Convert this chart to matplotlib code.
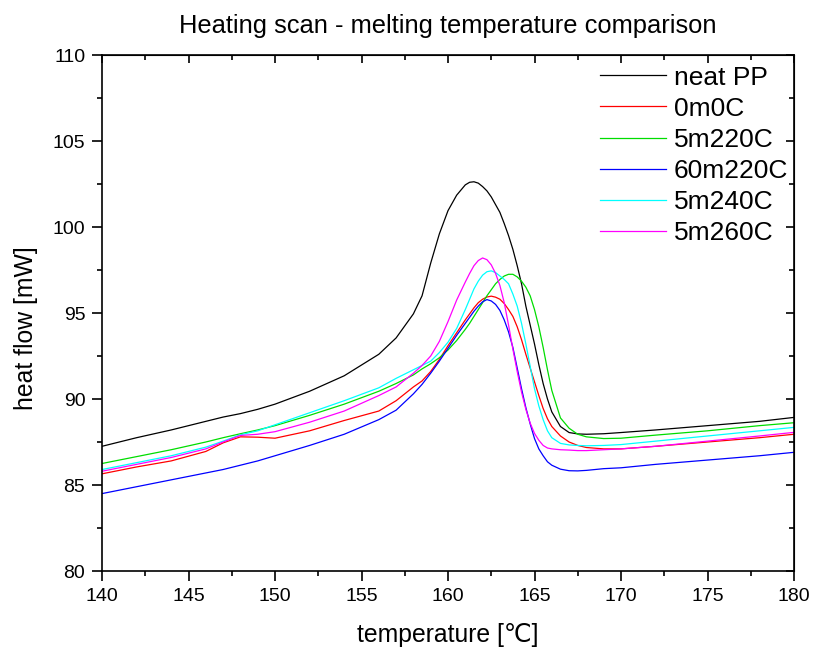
import matplotlib.pyplot as plt
from matplotlib.ticker import MultipleLocator

plt.rcParams['font.family'] = ['Liberation Sans', 'DejaVu Sans']

temperature = [140, 142, 144, 146, 147, 148, 149, 150, 152, 154, 156, 157, 158,
               158.5, 159, 159.5, 160, 160.5, 161, 161.25, 161.5, 161.75, 162,
               162.25, 162.5, 162.75, 163, 163.25, 163.5, 163.75, 164, 164.25,
               164.5, 164.75, 165, 165.25, 165.5, 165.75, 166, 166.5, 167, 167.5,
               168, 169, 170, 172, 175, 178, 180]

neat_pp = [87.25, 87.75, 88.2, 88.7, 88.95, 89.15, 89.4, 89.7, 90.45, 91.35, 92.6, 93.55, 94.95,
           96.0, 97.9, 99.6, 100.95, 101.85, 102.45, 102.6, 102.63, 102.55, 102.35,
           102.1, 101.75, 101.3, 100.85, 100.2, 99.5, 98.7, 97.75, 96.7,
           95.4, 94.3, 93.2, 92.0, 90.9, 90.0, 89.25, 88.4, 88.05, 87.97,
           87.95, 87.98, 88.05, 88.2, 88.45, 88.7, 88.93]

s_0m0c = [85.65, 86.05, 86.4, 86.95, 87.45, 87.8, 87.78, 87.72, 88.15, 88.75, 89.3, 89.9, 90.7,
          91.05, 91.6, 92.3, 93.1, 93.85, 94.6, 94.95, 95.3, 95.6, 95.8,
          95.93, 95.98, 95.92, 95.8, 95.55, 95.2, 94.8, 94.2, 93.45,
          92.6, 91.8, 91.0, 90.2, 89.45, 88.85, 88.4, 87.85, 87.5, 87.3,
          87.18, 87.1, 87.1, 87.25, 87.5, 87.75, 87.95]

s_5m220c = [86.25, 86.65, 87.05, 87.5, 87.75, 87.98, 88.2, 88.45, 89.05, 89.7, 90.45, 90.9, 91.4,
            91.75, 92.05, 92.4, 92.85, 93.4, 94.05, 94.4, 94.8, 95.2, 95.6,
            96.0, 96.35, 96.7, 96.95, 97.15, 97.25, 97.25, 97.1, 96.85,
            96.5, 96.0, 95.2, 94.2, 93.0, 91.7, 90.5, 88.9, 88.3, 87.95,
            87.8, 87.7, 87.72, 87.9, 88.15, 88.45, 88.62]

s_60m220c = [84.5, 84.9, 85.3, 85.7, 85.9, 86.15, 86.4, 86.7, 87.3, 87.95, 88.8, 89.35, 90.3,
             90.85, 91.5, 92.2, 92.95, 93.7, 94.4, 94.75, 95.1, 95.4, 95.65,
             95.78, 95.7, 95.5, 95.15, 94.6, 93.9, 93.0, 91.8, 90.6,
             89.5, 88.55, 87.7, 87.1, 86.7, 86.35, 86.15, 85.92, 85.83, 85.82,
             85.85, 85.95, 86.0, 86.2, 86.45, 86.7, 86.9]

s_5m240c = [85.9, 86.3, 86.7, 87.2, 87.55, 87.92, 88.15, 88.5, 89.2, 89.9, 90.65, 91.2, 91.7,
            91.95, 92.2, 92.7, 93.3, 94.1, 95.2, 95.8, 96.4, 96.85, 97.2,
            97.4, 97.45, 97.35, 97.15, 96.95, 96.7, 96.1, 95.4, 94.4,
            93.2, 91.9, 90.6, 89.6, 88.8, 88.15, 87.75, 87.42, 87.33, 87.3,
            87.28, 87.3, 87.35, 87.55, 87.85, 88.15, 88.35]

s_5m260c = [85.8, 86.2, 86.6, 87.1, 87.5, 87.88, 87.95, 88.1, 88.65, 89.3, 90.2, 90.7, 91.5,
            91.95, 92.5, 93.35, 94.5, 95.75, 96.8, 97.3, 97.75, 98.05, 98.2,
            98.1, 97.8, 97.3, 96.6, 95.6, 94.3, 92.9, 91.6, 90.4,
            89.4, 88.6, 88.0, 87.6, 87.3, 87.15, 87.1, 87.05, 87.03, 87.0,
            87.0, 87.05, 87.1, 87.25, 87.55, 87.85, 88.06]

labels = ["neat PP", "0m0C", "5m220C", "60m220C", "5m240C", "5m260C"]
colors = ["black", "red", "#00dd00", "blue", "cyan", "magenta"]
series = [neat_pp, s_0m0c, s_5m220c, s_60m220c, s_5m240c, s_5m260c]

fig = plt.figure(figsize=(8.13, 6.49), dpi=100)
ax = fig.add_axes([102 / 813, 1 - 571 / 649, 692 / 813, 516 / 649])

for ys, c, lab in zip(series, colors, labels):
    ax.plot(temperature, ys, color=c, lw=0.9, label=lab)

ax.set_xlim(140, 180)
ax.set_ylim(80, 110)
ax.xaxis.set_major_locator(MultipleLocator(5))
ax.xaxis.set_minor_locator(MultipleLocator(2.5))
ax.yaxis.set_major_locator(MultipleLocator(5))
ax.yaxis.set_minor_locator(MultipleLocator(2.5))
ax.tick_params(which='major', direction='out', length=7, width=1.2, labelsize=14, pad=5)
ax.tick_params(which='minor', direction='out', length=3.5, width=1.2)
for sp in ax.spines.values():
    sp.set_linewidth(1.2)

# inward ticks on the top and right edges, no labels
top = ax.secondary_xaxis('top')
top.xaxis.set_major_locator(MultipleLocator(5))
top.xaxis.set_minor_locator(MultipleLocator(2.5))
top.tick_params(which='major', direction='in', length=6, width=1.2, labeltop=False)
top.tick_params(which='minor', direction='in', length=3.5, width=1.2)
right = ax.secondary_yaxis('right')
right.yaxis.set_major_locator(MultipleLocator(5))
right.yaxis.set_minor_locator(MultipleLocator(2.5))
right.tick_params(which='major', direction='in', length=6, width=1.2, labelright=False)
right.tick_params(which='minor', direction='in', length=3.5, width=1.2)

ax.set_xlabel("temperature [℃]", fontsize=17.8, labelpad=13)
ax.set_ylabel("heat flow [mW]", fontsize=17.8)
ax.yaxis.set_label_coords(-0.093, 0.471)
ax.set_title("Heating scan - melting temperature comparison", fontsize=18.4, pad=16)

ax.legend(loc='upper right', bbox_to_anchor=(1.007, 1.0), frameon=False, fontsize=19,
          handlelength=2.5, labelspacing=0.27, borderpad=0.2, borderaxespad=0.2,
          handletextpad=0.3)

fig.savefig("out.png", dpi=100)
